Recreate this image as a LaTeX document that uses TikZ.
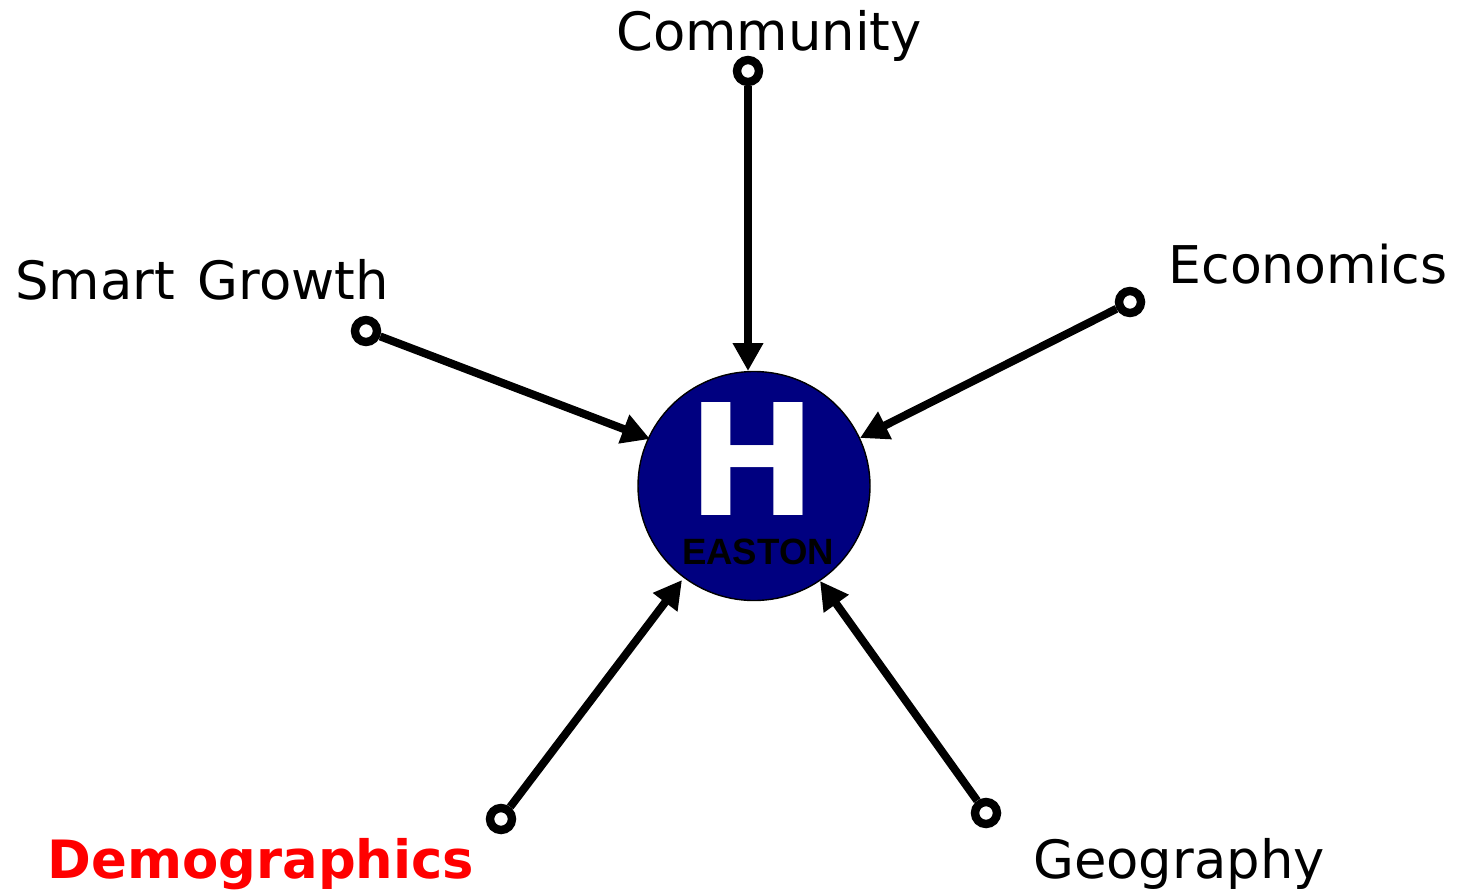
\documentclass[tikz,border=0pt]{standalone}
\usepackage{fontspec}
\setmainfont{DejaVu Sans}
\newfontfamily\arialf{Liberation Sans}
\usetikzlibrary{arrows.meta,shapes.geometric}
\definecolor{hubblue}{RGB}{0,0,128}
\tikzset{
  px/.style={x=0.5pt,y=-0.5pt},
  hub/.style={ellipse,draw=black,line width=0.7pt,fill=hubblue,minimum width=116pt,minimum height=114.5pt,inner sep=0pt},
  ring/.style={circle,draw=black,line width=4.2pt,fill=white,minimum size=11pt,inner sep=0pt},
  conn/.style={line width=4pt,draw=black,-{Triangle[length=14pt,width=14.5pt]}},
  lab/.style={font=\fontsize{26.4}{30}\selectfont,inner sep=0pt,text=black},
}
\begin{document}
\begin{tikzpicture}[px]
\useasboundingbox (0,0) rectangle (1459,894);
\node[hub] (hub) at (754,486) {};
\node[font=\bfseries\fontsize{77.5}{80}\selectfont,text=white,inner sep=0pt] (h) at (752,458.5) {H};
\node[font=\arialf\bfseries\fontsize{18.3}{20}\selectfont,text=black,inner sep=0pt] (e) at (758,552) {EASTON};
\node[ring] (rc) at (748,71) {};
\node[ring] (rs) at (366,331) {};
\node[ring] (re) at (1130,302) {};
\node[ring] (rd) at (501,819) {};
\node[ring] (rg) at (986,813) {};
\coordinate (tc) at (748,371);
\coordinate (ts) at (650,439);
\coordinate (te) at (860,438);
\coordinate (td) at (682,580);
\coordinate (tg) at (820,581);
\draw[conn] (rc) -- (tc);
\draw[conn] (rs) -- (ts);
\draw[conn] (re) -- (te);
\draw[conn] (rd) -- (td);
\draw[conn] (rg) -- (tg);
\node[lab] (lc) at (769,36) {Community};
\node[lab] (ls) at (202,280) {Smart\kern3pt\ Growth};
\node[lab,font=\fontsize{26}{30}\selectfont] (le) at (1308,264) {Economics};
\node[lab] (lg) at (1179,864) {Geography};
\node[lab,font=\bfseries\fontsize{26.4}{30}\selectfont,text=red] (ld) at (261,864) {Demographics};
\end{tikzpicture}
\end{document}
